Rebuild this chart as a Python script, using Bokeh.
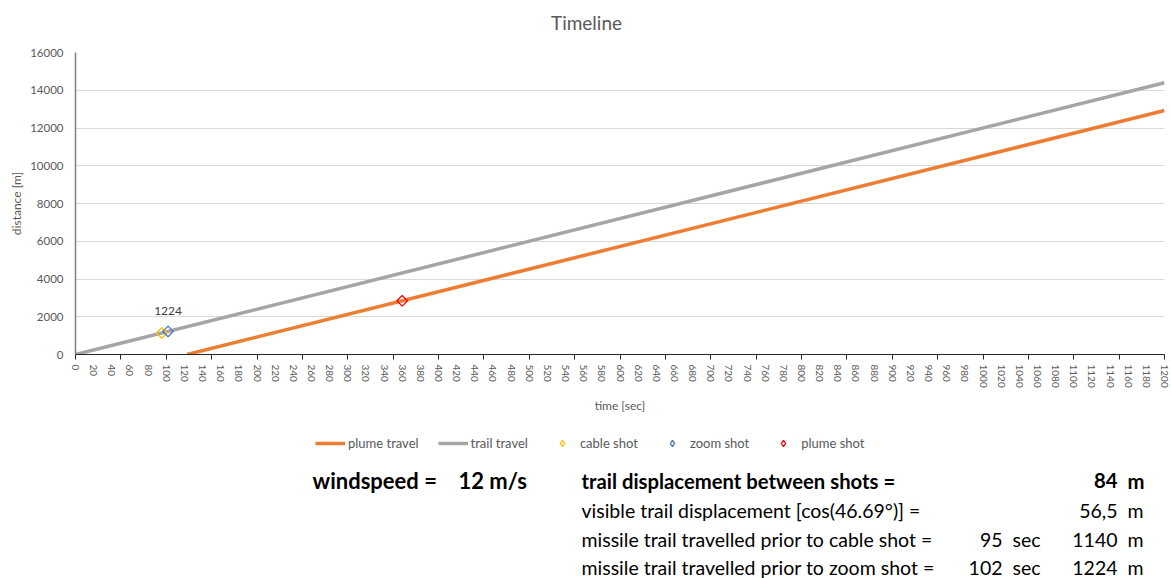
import numpy as np
from bokeh.plotting import figure
from bokeh.layouts import column
from bokeh.models import Range1d, FixedTicker, Legend, LegendItem
from bokeh.core.properties import value
from bokeh.embed import file_html
from bokeh.resources import INLINE

# ---------------- data ----------------
trail_time = [0, 1200]
trail_dist = [0, 14400]
plume_time = [123, 1200]
plume_dist = [0, 12924]
cable_time = [95]
cable_dist = [1140]
zoom_time = [102]
zoom_dist = [1224]
plume_shot_time = [360]
plume_shot_dist = [2844]
x_tick_labels = list(range(0, 1201, 20))
x_tick_marks = list(range(0, 1201, 50))
y_ticks = list(range(0, 16001, 2000))

title_text = "Timeline"
windspeed = "12"
trail_displacement = "84"
visible_displacement = "56,5"
view_angle = "46.69"
cable_sec, cable_m = "95", "1140"
zoom_sec, zoom_m = "102", "1224"

FONT = value("Lato")
GREY_TXT = "#595959"
W = 1171
LEFT, RIGHT = 75, 7

COL_PLUME, COL_TRAIL = "#ed7d31", "#a5a5a5"
COL_CABLE, COL_ZOOM, COL_PSHOT = "#ffc000", "#4472c4", "#ff0000"


def blank(height):
    # frame spans the same pixels as the main chart's frame; x data == page pixels
    f = figure(width=W, height=height, output_backend="svg", toolbar_location=None,
               x_range=Range1d(LEFT, W - RIGHT), y_range=Range1d(0, height),
               min_border_left=LEFT, min_border_right=RIGHT,
               min_border_top=0, min_border_bottom=0,
               x_axis_location=None, y_axis_location=None)
    f.grid.visible = False
    f.outline_line_color = None
    return f


# ---------------- title strip ----------------
TH = 44
t = blank(TH)
t.text(x=[586], y=[TH - 22], text=[title_text], text_align="center", text_baseline="middle",
       text_font=FONT, text_font_size="19px", text_color=GREY_TXT)

# ---------------- main chart ----------------
PH = 381
p = figure(width=W, height=PH, output_backend="svg", toolbar_location=None,
           x_range=Range1d(0, 1200), y_range=Range1d(0, 16000),
           min_border_left=LEFT, min_border_right=RIGHT, min_border_top=8,
           min_border_bottom=PH - 8 - 302)
p.outline_line_color = None

p.xgrid.visible = False
p.ygrid.grid_line_color = "#d9d9d9"
p.ygrid.grid_line_width = 1

p.xaxis.ticker = FixedTicker(ticks=x_tick_labels, minor_ticks=x_tick_marks)
p.xaxis.major_label_orientation = "vertical"
p.xaxis.major_tick_out = 0
p.xaxis.major_tick_in = 0
p.xaxis.minor_tick_out = 5
p.xaxis.minor_tick_in = 0
p.xaxis.minor_tick_line_color = "#262626"
p.xaxis.axis_line_color = "#262626"
p.xaxis.major_label_standoff = 5
p.xaxis.major_label_text_font_size = "10px"
p.xaxis.major_label_text_font = "Lato"
p.xaxis.major_label_text_color = GREY_TXT
p.xaxis.axis_label = "time [sec]"
p.xaxis.axis_label_standoff = 7
p.xaxis.axis_label_text_font = "Lato"
p.xaxis.axis_label_text_font_size = "12px"
p.xaxis.axis_label_text_font_style = "normal"
p.xaxis.axis_label_text_color = GREY_TXT

p.yaxis.ticker = FixedTicker(ticks=y_ticks)
p.yaxis.major_tick_out = 0
p.yaxis.major_tick_in = 0
p.yaxis.minor_tick_out = 0
p.yaxis.minor_tick_in = 0
p.yaxis.axis_line_color = "#7f7f7f"
p.yaxis.axis_line_width = 1.5
p.yaxis.major_label_standoff = 12
p.yaxis.major_label_text_font_size = "11.5px"
p.yaxis.major_label_text_font = "Lato"
p.yaxis.major_label_text_color = GREY_TXT
p.yaxis.axis_label = "distance [m]"
p.yaxis.axis_label_standoff = 3
p.yaxis.axis_label_text_font = "Lato"
p.yaxis.axis_label_text_font_size = "12px"
p.yaxis.axis_label_text_font_style = "normal"
p.yaxis.axis_label_text_color = GREY_TXT

p.line(trail_time, trail_dist, line_color=COL_TRAIL, line_width=3.5)
p.line(plume_time, plume_dist, line_color=COL_PLUME, line_width=3.5)
for tt, d, c in [(cable_time, cable_dist, COL_CABLE), (zoom_time, zoom_dist, COL_ZOOM),
                 (plume_shot_time, plume_shot_dist, COL_PSHOT)]:
    p.scatter(tt, d, marker="square", angle=np.pi / 4, size=7.5,
              fill_color=None, line_color=c, line_width=1.3)
p.text(x=zoom_time, y=zoom_dist, text=[str(v) for v in zoom_dist], y_offset=-20,
       text_align="center", text_baseline="middle", text_font=FONT,
       text_font_size="12px", text_color="#404040")

# ---------------- legend + info text ----------------
QH = 578 - TH - PH
q = blank(QH)

# legend swatches (NaN data: nothing is drawn in the strip itself)
nan2 = [np.nan, np.nan]
sw_plume = q.line(nan2, nan2, line_color=COL_PLUME, line_width=3.5)
sw_trail = q.line(nan2, nan2, line_color=COL_TRAIL, line_width=3.5)
sw_cable = q.scatter(nan2, nan2, marker="diamond", size=8, fill_color=None,
                     line_color=COL_CABLE, line_width=1.3)
sw_zoom = q.scatter(nan2, nan2, marker="diamond", size=8, fill_color=None,
                    line_color=COL_ZOOM, line_width=1.3)
sw_pshot = q.scatter(nan2, nan2, marker="diamond", size=8, fill_color=None,
                     line_color=COL_PSHOT, line_width=1.3)

legend = Legend(items=[LegendItem(label="plume travel", renderers=[sw_plume]),
                       LegendItem(label="trail travel", renderers=[sw_trail]),
                       LegendItem(label="cable shot", renderers=[sw_cable]),
                       LegendItem(label="zoom shot", renderers=[sw_zoom]),
                       LegendItem(label="plume shot", renderers=[sw_pshot])],
                orientation="horizontal", location=(240, 578 - 451),
                padding=0, margin=0, spacing=19, label_standoff=3,
                glyph_width=30, glyph_height=16, label_height=16,
                label_text_font="Lato", label_text_font_size="13px",
                label_text_color=GREY_TXT, border_line_color=None,
                background_fill_alpha=0)
q.add_layout(legend, "center")


def ty(ref_y):
    return 578 - ref_y


rows = [ty(480), ty(510), ty(539), ty(567)]


def txt(x, y, s, align="left", bold=False, size="19.5px"):
    q.text(x=[x], y=[y], text=[s], text_align=align, text_baseline="middle",
           text_font=FONT, text_font_size=size,
           text_font_style="bold" if bold else "normal", text_color="#000000")


txt(312, rows[0], "windspeed =", bold=True, size="22px")
txt(458, rows[0], windspeed + " m/s", bold=True, size="22px")
txt(581, rows[0], "trail displacement between shots =", bold=True, size="20.3px")
txt(1117, rows[0], trail_displacement, align="right", bold=True, size="20.3px")
txt(1127, rows[0], "m", bold=True, size="20.3px")

txt(581, rows[1], "visible trail displacement [cos(" + view_angle + "°)] =")
txt(1117, rows[1], visible_displacement, align="right")
txt(1127, rows[1], "m")

txt(581, rows[2], "missile trail travelled prior to cable shot =")
txt(1002, rows[2], cable_sec, align="right")
txt(1012, rows[2], "sec")
txt(1117, rows[2], cable_m, align="right")
txt(1127, rows[2], "m")

txt(581, rows[3], "missile trail travelled prior to zoom shot =")
txt(1002, rows[3], zoom_sec, align="right")
txt(1012, rows[3], "sec")
txt(1117, rows[3], zoom_m, align="right")
txt(1127, rows[3], "m")

layout = column(t, p, q, spacing=0)
open("out.html", "w").write(file_html(layout, INLINE))
